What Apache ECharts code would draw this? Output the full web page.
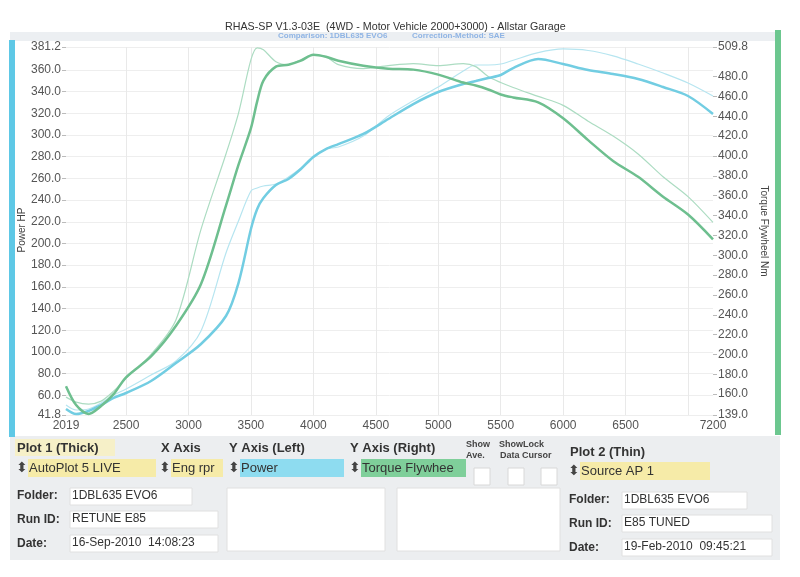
<!DOCTYPE html>
<html>
<head>
<meta charset="utf-8">
<script src="https://cdn.jsdelivr.net/npm/echarts@6/dist/echarts.min.js"></script>
<style>
html, body { margin: 0; padding: 0; background: #fff; }
#main { width: 800px; height: 577px; }
</style>
</head>
<body>
<div id="main"></div>
<script>
var myChart = echarts.init(document.getElementById('main'));

// engine speed (rpm)
var rpm = [2019, 2100, 2200, 2300, 2400, 2500, 2700, 2900, 3100, 3300, 3400, 3500, 3550, 3600, 3700, 3800, 3900, 4000, 4100, 4200,
    4400, 4600, 4800, 5000, 5200, 5300, 5400, 5500, 5600, 5800, 6000, 6200, 6400, 6600, 6800, 7000, 7200];
// Plot 1 (thick) - RETUNE E85
var power1 = [47.3, 42.7, 45.5, 51.0, 57.5, 62.1, 73.2, 89.8, 107.3, 133.1, 163.5, 213.3, 231.8, 241.9, 253.9, 259.5, 268.7, 279.8, 287.1, 291.7,
    301.0, 314.8, 328.6, 339.7, 347.1, 349.8, 352.6, 355.4, 361.8, 370.1, 365.5, 360.0, 356.3, 351.7, 344.3, 336.0, 319.4];
var torque1 = [168, 149, 140, 148, 160, 177, 198, 229, 271, 350, 391, 428, 455, 476, 490, 492, 496, 502, 500, 496,
    491, 488, 487, 482, 474, 471, 467, 462, 459, 454, 438, 416, 395, 379, 359, 341, 316];
// Plot 2 (thin) - E85 TUNED
var power2 = [51.0, 46.4, 47.3, 52.9, 60.2, 65.8, 78.7, 91.6, 119.3, 191.2, 220.7, 248.4, 251.2, 253.0, 254.9, 261.3, 269.6, 280.7, 287.1, 289.0,
    299.1, 317.6, 331.6, 344.3, 359.1, 364.6, 364.6, 365.5, 369.0, 376.0, 379.4, 378.0, 373.0, 365.5, 357.2, 348.0, 336.0];
var torque2 = [157, 152, 150, 153, 163, 176, 200, 235, 326, 402, 443, 497, 509, 507, 495, 492, 497, 502, 500, 492,
    488, 491, 493, 491, 493, 490, 480, 474, 469, 460, 451, 435, 420, 402, 379, 359, 333];

// tick labels
var xLabels = [2019, 2500, 3000, 3500, 4000, 4500, 5000, 5500, 6000, 6500, 7200];
var xGrid = [2500, 3000, 3500, 4000, 4500, 5000, 5500, 6000, 6500, 7000];
var leftLabels = [41.8, 60, 80, 100, 120, 140, 160, 180, 200, 220, 240, 260, 280, 300, 320, 340, 360, 381.2];
var rightLabels = [139, 160, 180, 200, 220, 240, 260, 280, 300, 320, 340, 360, 380, 400, 420, 440, 460, 480, 509.8];

var FONT = '"Liberation Sans", Arial, sans-serif';

function pairs(ys) {
    return rpm.map(function (r, i) { return [r, ys[i]]; });
}

// --- bottom control panel helpers
function txt(x, y, s, size, bold, color) {
    return {
        type: 'text', x: x, y: y, z: 10,
        style: {
            text: s, fill: color || '#333',
            font: (bold ? 'bold ' : '') + size + 'px ' + FONT,
            verticalAlign: 'middle', textVerticalAlign: 'middle'
        }
    };
}
function box(x, y, w, h, fill, stroke) {
    return {
        type: 'rect', z: 5,
        shape: { x: x, y: y, width: w, height: h },
        style: { fill: fill, stroke: stroke || null, lineWidth: stroke ? 1 : 0 }
    };
}

var panel = [
    // frame
    box(10, 32, 770, 9, '#eceff2'),
    box(10, 436, 770, 124, '#eceef0'),
    box(9, 40, 6, 397, '#5ec8e6'),
    box(775, 30, 6, 405, '#6cc78f'),
    txt(278, 36, 'Comparison: 1DBL635 EVO6', 8, true, '#8fb4e4'),
    txt(412, 36, 'Correction-Method: SAE', 8, true, '#8fb4e4'),
    {
        type: 'text', x: 22, y: 230, rotation: Math.PI / 2, z: 10,
        style: {
            text: 'Power HP', fill: '#444', font: '10px ' + FONT,
            align: 'center', verticalAlign: 'middle', textAlign: 'center', textVerticalAlign: 'middle'
        }
    },

    // headers
    box(15, 439, 100, 17, '#f6f0c8'),
    txt(17, 448, 'Plot 1 (Thick)', 13, true, '#333'),
    txt(161, 448, 'X Axis', 13, true, '#333'),
    txt(229, 448, 'Y Axis (Left)', 13, true, '#333'),
    txt(350, 448, 'Y Axis (Right)', 13, true, '#333'),
    txt(466, 445, 'Show', 9, true, '#444'),
    txt(466, 456, 'Ave.', 9, true, '#444'),
    txt(499, 445, 'ShowLock', 9, true, '#444'),
    txt(500, 456, 'Data Cursor', 9, true, '#444'),
    txt(570, 452, 'Plot 2 (Thin)', 13, true, '#333'),

    // selectors
    box(28, 459, 128, 18, '#f6eba8'),
    txt(16, 468, '⬍', 14, false, '#444'),
    txt(29, 468, 'AutoPlot 5 LIVE', 13, false, '#333'),
    box(171, 459, 52, 18, '#f6eba8'),
    txt(159, 468, '⬍', 14, false, '#444'),
    txt(172, 468, 'Eng rpr', 13, false, '#333'),
    box(240, 459, 104, 18, '#8edcf0'),
    txt(228, 468, '⬍', 14, false, '#444'),
    txt(241, 468, 'Power', 13, false, '#333'),
    box(361, 459, 105, 18, '#7fcf9a'),
    txt(349, 468, '⬍', 14, false, '#444'),
    txt(362, 468, 'Torque Flywhee', 13, false, '#333'),
    box(474, 468, 16, 17, '#fff', '#d8d8d8'),
    box(508, 468, 16, 17, '#fff', '#d8d8d8'),
    box(541, 468, 16, 17, '#fff', '#d8d8d8'),
    box(580, 462, 130, 18, '#f6eba8'),
    txt(568, 471, '⬍', 14, false, '#444'),
    txt(581, 471, 'Source AP 1', 13, false, '#333'),

    // plot 1 details
    txt(17, 496, 'Folder:', 12, true, '#333'),
    box(70, 488, 122, 17, '#fff', '#e0e0e0'),
    txt(72, 496, '1DBL635 EVO6', 12, false, '#333'),
    txt(17, 520, 'Run ID:', 12, true, '#333'),
    box(70, 511, 148, 17, '#fff', '#e0e0e0'),
    txt(72, 519, 'RETUNE E85', 12, false, '#333'),
    txt(17, 544, 'Date:', 12, true, '#333'),
    box(70, 535, 148, 17, '#fff', '#e0e0e0'),
    txt(72, 543, '16-Sep-2010  14:08:23', 12, false, '#333'),
    box(227, 488, 158, 63, '#fff', '#e0e0e0'),
    box(397, 488, 163, 63, '#fff', '#e0e0e0'),

    // plot 2 details
    txt(569, 500, 'Folder:', 12, true, '#333'),
    box(622, 492, 125, 17, '#fff', '#e0e0e0'),
    txt(624, 500, '1DBL635 EVO6', 12, false, '#333'),
    txt(569, 524, 'Run ID:', 12, true, '#333'),
    box(622, 515, 150, 17, '#fff', '#e0e0e0'),
    txt(624, 523, 'E85 TUNED', 12, false, '#333'),
    txt(569, 548, 'Date:', 12, true, '#333'),
    box(622, 539, 150, 17, '#fff', '#e0e0e0'),
    txt(624, 547, '19-Feb-2010  09:45:21', 12, false, '#333')
];

var option = {
    animation: false,
    backgroundColor: '#fff',
    textStyle: { fontFamily: FONT },
    title: {
        text: 'RHAS-SP V1.3-03E  (4WD - Motor Vehicle 2000+3000) - Allstar Garage',
        left: 225, top: 22, padding: 0,
        textStyle: { fontSize: 10.7, fontWeight: 'normal', color: '#333', fontFamily: FONT }
    },
    graphic: panel,
    grid: { left: 66, right: 87, top: 47, bottom: 162 },
    xAxis: {
        type: 'value', min: 2019, max: 7200,
        axisLine: { show: false },
        axisTick: { show: false, customValues: xGrid },
        axisLabel: {
            customValues: xLabels, color: '#555', fontSize: 12, margin: 5,
            fontFamily: FONT,
            formatter: function (v) { return String(v); }
        },
        splitLine: { show: true, lineStyle: { color: '#e9e9e9', width: 1 } }
    },
    yAxis: [{
        type: 'value', position: 'left', min: 41.8, max: 381.2,
        axisLine: { show: false },
        axisTick: { show: true, inside: false, length: 4, customValues: leftLabels, lineStyle: { color: '#bbb' } },
        axisLabel: {
            customValues: leftLabels, color: '#555', fontSize: 12, margin: 5, fontFamily: FONT,
            formatter: function (v) { return v.toFixed(1); }
        },
        splitLine: { show: true, lineStyle: { color: '#eeeeee', width: 1 } }
    }, {
        type: 'value', position: 'right', min: 139, max: 509.8,
        name: 'Torque Flywheel Nm', nameLocation: 'middle', nameGap: 42, nameRotate: -90,
        nameTextStyle: { fontSize: 10, color: '#444', fontFamily: FONT },
        axisLine: { show: false },
        axisTick: { show: true, length: 4, customValues: rightLabels, lineStyle: { color: '#bbb' } },
        axisLabel: {
            customValues: rightLabels, color: '#555', fontSize: 12, margin: 5, fontFamily: FONT,
            formatter: function (v) { return v.toFixed(1); }
        },
        splitLine: { show: false }
    }],
    series: [{
        name: 'Power (Plot 2)', type: 'line', yAxisIndex: 0, data: pairs(power2),
        smooth: 0.3, symbol: 'none', lineStyle: { width: 1.2, color: '#b6e5f0' }
    }, {
        name: 'Torque (Plot 2)', type: 'line', yAxisIndex: 1, data: pairs(torque2),
        smooth: 0.3, symbol: 'none', lineStyle: { width: 1.2, color: '#acdcc2' }
    }, {
        name: 'Power (Plot 1)', type: 'line', yAxisIndex: 0, data: pairs(power1),
        smooth: 0.3, symbol: 'none', lineStyle: { width: 2.5, color: '#72cde2' }
    }, {
        name: 'Torque (Plot 1)', type: 'line', yAxisIndex: 1, data: pairs(torque1),
        smooth: 0.3, symbol: 'none', lineStyle: { width: 2.5, color: '#6ebf8f' }
    }]
};

myChart.setOption(option);
</script>
</body>
</html>
